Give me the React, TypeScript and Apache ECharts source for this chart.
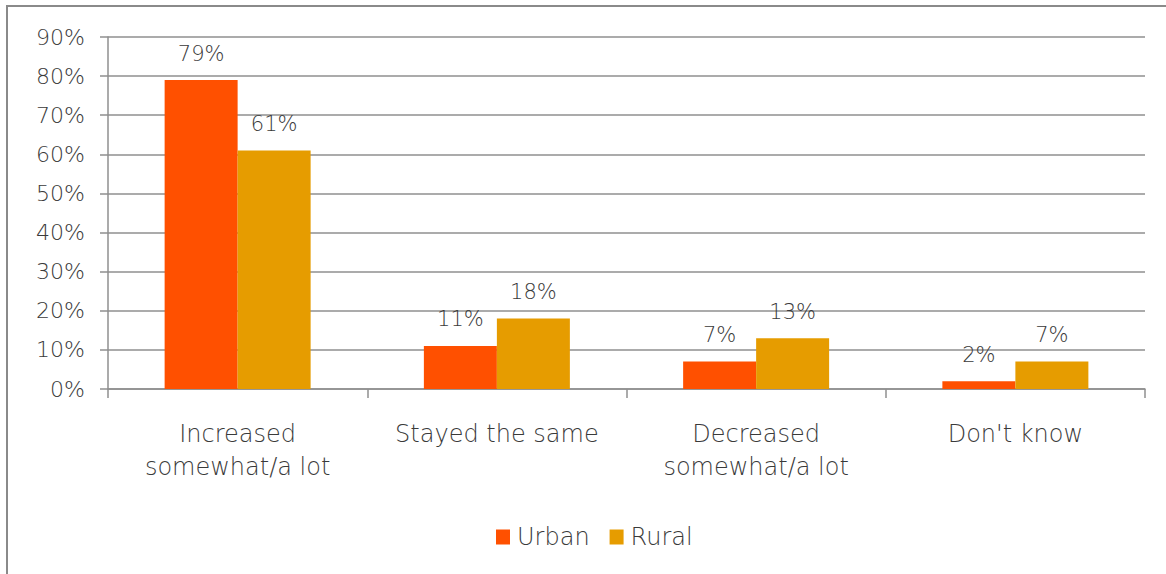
import React, { useEffect, useRef } from "react";
import * as echarts from "echarts";

const categories = ["Increased\nsomewhat/a lot", "Stayed the same", "Decreased\nsomewhat/a lot", "Don't know"];
const urbanValues = [79, 11, 7, 2];
const ruralValues = [61, 18, 13, 7];
const seriesNames = ["Urban", "Rural"];
const yTicks = { min: 0, max: 90, interval: 10 };

const FONT = "'DejaVu Sans', sans-serif";
const TEXT = "#3a3a3a";
const LINE = "#8f8f8f";

export default function App() {
  const ref = useRef<HTMLDivElement>(null);
  useEffect(() => {
    if (!ref.current) return;
    const chart = echarts.init(ref.current, null, { renderer: "svg" });
    const labelStyle = {
      show: true,
      position: "top" as const,
      distance: 16,
      formatter: "{c}%",
      color: TEXT,
      fontSize: 21,
      fontFamily: FONT,
      fontWeight: 300,
    };
    chart.setOption({
      animation: false,
      backgroundColor: "#ffffff",
      textStyle: { fontFamily: FONT },
      graphic: [
        {
          type: "rect",
          shape: { x: 7, y: 6, width: 1200, height: 600 },
          style: { fill: "none", stroke: "#8a8a8a", lineWidth: 2 },
          silent: true,
        },
      ],
      grid: { left: 108, right: 21, top: 37, bottom: 185, containLabel: false },
      legend: {
        left: 496,
        top: 525,
        padding: 0,
        icon: "rect",
        itemWidth: 14,
        itemHeight: 15,
        itemGap: 20,
        data: seriesNames,
        textStyle: { color: TEXT, fontSize: 24, fontFamily: FONT, fontWeight: 300, padding: [0, 0, 0, 2] },
      },
      xAxis: {
        type: "category",
        data: categories,
        axisLine: { show: true, lineStyle: { color: LINE, width: 1.5 } },
        axisTick: { show: true, length: 9, lineStyle: { color: LINE, width: 1.5 } },
        axisLabel: {
          color: TEXT,
          fontSize: 24,
          fontFamily: FONT,
          fontWeight: 300,
          lineHeight: 33,
          margin: 28,
          interval: 0,
        },
      },
      yAxis: {
        type: "value",
        min: yTicks.min,
        max: yTicks.max,
        interval: yTicks.interval,
        axisLine: { show: true, lineStyle: { color: LINE, width: 1.5 } },
        axisTick: { show: true, length: 8, lineStyle: { color: LINE, width: 1.5 } },
        axisLabel: {
          formatter: "{value}%",
          color: TEXT,
          fontSize: 22,
          fontFamily: FONT,
          fontWeight: 300,
          margin: 23,
        },
        splitLine: { show: true, lineStyle: { color: LINE, width: 1.5 } },
      },
      series: [
        {
          name: seriesNames[0],
          type: "bar",
          data: urbanValues,
          barWidth: 73,
          barGap: "0%",
          itemStyle: { color: "#ff5000" },
          label: labelStyle,
        },
        {
          name: seriesNames[1],
          type: "bar",
          data: ruralValues,
          barWidth: 73,
          barGap: "0%",
          itemStyle: { color: "#e69c00" },
          label: labelStyle,
        },
      ],
    });
    return () => chart.dispose();
  }, []);
  return (
    <div
      ref={ref}
      style={{ position: "fixed", left: 0, top: 0, width: 1166, height: 574 }}
    />
  );
}
